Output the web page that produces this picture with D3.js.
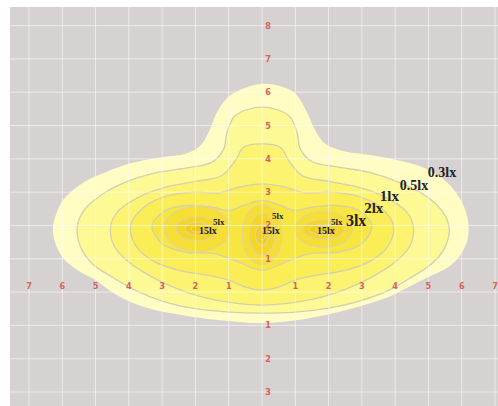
<!DOCTYPE html>
<html>
<head>
<meta charset="utf-8">
<script src="https://cdn.jsdelivr.net/npm/d3@7"></script>
<style>
  body { margin: 0; background: #fff; }
  svg { display: block; }
</style>
</head>
<body>
<div id="chart"></div>
<script>
// 1. data (metres)
const xTicks = [-7, -6, -5, -4, -3, -2, -1, 1, 2, 3, 4, 5, 6, 7];
const yTicks = [8, 7, 6, 5, 4, 3, 2, 1, -1, -2, -3];

const levels = ["0.3lx", "0.5lx", "1lx", "2lx", "3lx"];

const iso03 = [[0,6.25],[0.95,6.0],[1.35,5.4],[1.6,4.85],[1.9,4.45],[2.5,4.22],[3.2,4.12],[4.1,3.95],[4.9,3.72],[5.5,3.35],[5.95,2.8],[6.18,2.2],[6.18,1.6],[5.95,1.1],[5.6,0.75],[5.0,0.45],[4.4,0.15],[3.8,-0.15],[3.2,-0.35],[2.3,-0.6],[1.2,-0.82],[0,-0.93],[-1.2,-0.85],[-1.95,-0.76],[-2.8,-0.62],[-3.6,-0.43],[-4.2,-0.18],[-4.6,0.06],[-5.0,0.36],[-5.55,0.66],[-6.0,1.05],[-6.25,1.6],[-6.28,1.95],[-6.18,2.35],[-5.95,2.8],[-5.35,3.3],[-4.7,3.6],[-3.95,3.87],[-3.0,4.05],[-2.3,4.15],[-1.85,4.4],[-1.58,4.85],[-1.35,5.4],[-0.96,5.9]];
const iso05 = [[0,5.55],[0.8,5.3],[1.05,4.8],[1.15,4.3],[1.5,3.92],[2.3,3.75],[3.2,3.6],[4.1,3.3],[4.9,2.9],[5.4,2.45],[5.62,1.95],[5.5,1.35],[5.1,0.85],[4.5,0.45],[3.8,0.05],[3.0,-0.25],[2.0,-0.48],[1.0,-0.6],[0,-0.63],[-1.0,-0.6],[-2.0,-0.5],[-3.0,-0.27],[-3.8,0.05],[-4.5,0.45],[-5.1,0.85],[-5.45,1.35],[-5.55,1.95],[-5.35,2.45],[-4.85,2.9],[-4.1,3.3],[-3.2,3.58],[-2.3,3.72],[-1.5,3.9],[-1.15,4.3],[-1.05,4.8],[-0.8,5.3]];
const iso1 = [[0,4.45],[0.55,4.35],[0.8,3.95],[1.2,3.5],[2.0,3.32],[3.0,3.12],[3.8,2.8],[4.35,2.4],[4.55,1.95],[4.45,1.4],[4.0,0.9],[3.3,0.45],[2.5,0.08],[1.5,-0.22],[0,-0.39],[-1.5,-0.22],[-2.5,0.08],[-3.3,0.45],[-4.0,0.9],[-4.45,1.4],[-4.55,1.95],[-4.35,2.4],[-3.8,2.8],[-3.0,3.12],[-2.0,3.32],[-1.2,3.5],[-0.8,3.95],[-0.55,4.35]];
const iso2 = [[0,3.25],[0.7,3.15],[1.3,2.98],[2.0,3.0],[2.8,2.9],[3.55,2.55],[3.95,2.0],[3.8,1.4],[3.3,0.95],[2.5,0.65],[1.6,0.5],[1.0,0.36],[0.5,0.15],[0,0.06],[-0.5,0.15],[-1.0,0.36],[-1.6,0.5],[-2.5,0.65],[-3.3,0.95],[-3.8,1.4],[-3.95,2.0],[-3.55,2.55],[-2.8,2.9],[-2.0,3.0],[-1.3,2.98],[-0.7,3.15]];
const iso3 = [[0,2.75],[0.55,2.6],[1.0,2.45],[1.5,2.55],[2.2,2.6],[2.9,2.45],[3.3,2.0],[3.0,1.45],[2.3,1.2],[1.4,1.15],[0.7,0.9],[0,0.65],[-0.7,0.9],[-1.4,1.15],[-2.3,1.2],[-3.0,1.45],[-3.3,2.0],[-2.9,2.45],[-2.2,2.6],[-1.5,2.55],[-1.0,2.45],[-0.55,2.6]];
const isolines = [iso03, iso05, iso1, iso2, iso3];

// hot spots under the three lamps: centre and ring radii [rx, ry] from 5lx inwards
const spotX = [-1.95, 0, 1.85];
const spotY = [1.9, 1.72, 1.88];
const spotRings = [
  [[0.98, 0.68], [0.63, 0.36], [0.36, 0.2], [0.18, 0.1]],
  [[0.6, 0.9], [0.38, 0.63], [0.2, 0.3], [0.1, 0.15]],
  [[0.86, 0.54], [0.63, 0.3], [0.42, 0.16], [0.2, 0.08]]
];

// label anchors [x, y, text]
const levelLabels = [[4.98, 3.45, "0.3lx"], [4.14, 3.06, "0.5lx"], [3.54, 2.73, "1lx"], [3.07, 2.36, "2lx"], [2.52, 1.98, "3lx"]];
const spotLabels5 = [[-1.47, 2.0], [0.3, 2.19], [2.07, 2.0]];
const spotLabels15 = [[-1.89, 1.74], [0.0, 1.74], [1.65, 1.74]];

// 2. drawing
const width = 498, height = 406;
const bandColors = ["#fffcc4", "#fdf995", "#fcf471", "#faed55", "#f8e640"];
const ringColors = ["#f6de34", "#f4d628", "#f2ce1a", "#f0c70c"];

function renderChart() {
  const svg = d3.select("#chart").append("svg")
    .attr("width", width).attr("height", height);

  const x = d3.scaleLinear().domain([-7, 7]).range([29, 495]);
  const y = d3.scaleLinear().domain([-3, 8]).range([392, 25.6]);

  svg.append("rect")
    .attr("x", 10).attr("y", 7)
    .attr("width", width - 10).attr("height", height - 7)
    .attr("fill", "#d6d2d1");

  const line = d3.line()
    .x(d => x(d[0])).y(d => y(d[1]))
    .curve(d3.curveCatmullRomClosed.alpha(0.5));

  svg.append("g")
    .selectAll("path")
    .data(isolines)
    .enter().append("path")
    .attr("d", line)
    .attr("fill", (d, i) => bandColors[i])
    .attr("stroke", (d, i) => i === 0 ? "none" : "#d4cfb0")
    .attr("stroke-width", 1.3);

  // nested ellipses round each lamp
  spotRings.forEach((rings, s) => {
    svg.append("g")
      .selectAll("ellipse")
      .data(rings)
      .enter().append("ellipse")
      .attr("cx", x(spotX[s]))
      .attr("cy", y(spotY[s]))
      .attr("rx", d => x(spotX[s] + d[0]) - x(spotX[s]))
      .attr("ry", d => y(spotY[s]) - y(spotY[s] + d[1]))
      .attr("fill", (d, i) => ringColors[i])
      .attr("stroke", "#e0d59a")
      .attr("stroke-width", 1.1);
  });

  // grid on top
  const grid = svg.append("g")
    .attr("stroke", "#ffffff")
    .attr("stroke-opacity", 0.55)
    .attr("stroke-width", 1);
  grid.selectAll("line.v")
    .data(d3.range(-7, 8))
    .enter().append("line")
    .attr("x1", d => x(d)).attr("x2", d => x(d))
    .attr("y1", 7).attr("y2", height);
  grid.selectAll("line.h")
    .data(d3.range(-3, 9))
    .enter().append("line")
    .attr("x1", 10).attr("x2", width)
    .attr("y1", d => y(d)).attr("y2", d => y(d));

  // red distance labels
  svg.append("g")
    .selectAll("text")
    .data(xTicks)
    .enter().append("text")
    .attr("x", d => x(d))
    .attr("y", y(0) - 3)
    .attr("text-anchor", "middle")
    .attr("font-family", "DejaVu Sans Condensed, DejaVu Sans, sans-serif")
    .attr("font-weight", "bold")
    .attr("font-size", 9)
    .attr("fill", "#d8605c")
    .text(d => Math.abs(d));

  svg.append("g")
    .selectAll("text")
    .data(yTicks)
    .enter().append("text")
    .attr("x", x(0) + 6)
    .attr("y", d => y(d) + 3)
    .attr("text-anchor", "middle")
    .attr("font-family", "DejaVu Sans Condensed, DejaVu Sans, sans-serif")
    .attr("font-weight", "bold")
    .attr("font-size", 9)
    .attr("fill", "#d8605c")
    .text(d => Math.abs(d));

  // lux labels
  const sizes = [14, 14, 15, 15, 16];
  svg.append("g")
    .selectAll("text")
    .data(levelLabels)
    .enter().append("text")
    .attr("x", d => x(d[0])).attr("y", d => y(d[1]))
    .attr("font-family", "Liberation Serif, serif")
    .attr("font-weight", "bold")
    .attr("font-size", (d, i) => sizes[i])
    .attr("fill", "#222")
    .text(d => d[2]);

  svg.append("g")
    .selectAll("text")
    .data(spotLabels5)
    .enter().append("text")
    .attr("x", d => x(d[0])).attr("y", d => y(d[1]))
    .attr("font-family", "Liberation Serif, serif")
    .attr("font-weight", "bold")
    .attr("font-size", 9)
    .attr("fill", "#222")
    .text("5lx");

  svg.append("g")
    .selectAll("text")
    .data(spotLabels15)
    .enter().append("text")
    .attr("x", d => x(d[0])).attr("y", d => y(d[1]))
    .attr("font-family", "Liberation Serif, serif")
    .attr("font-weight", "bold")
    .attr("font-size", 10)
    .attr("fill", "#222")
    .text("15lx");
}

renderChart();
</script>
</body>
</html>
